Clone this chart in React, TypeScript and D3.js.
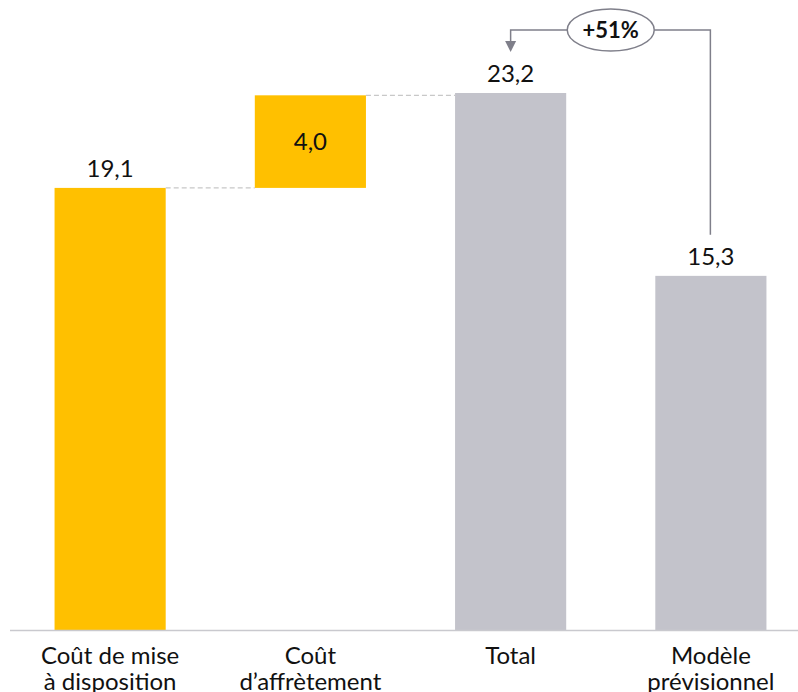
import React from "react";
import * as d3 from "d3";

const categories = ["Coût de mise\nà disposition", "Coût\nd’affrètement", "Total", "Modèle\nprévisionnel"];
const barStarts = [0, 19.1, 0, 0];
const barValues = [19.1, 4.0, 23.2, 15.3];
const barKinds = ["step", "step", "total", "total"];
const valueLabels = ["19,1", "4,0", "23,2", "15,3"];
const changeLabel = "+51%";

const W = 798;
const H = 692;
const FONT = "Lato, 'Open Sans', sans-serif";

export default function App() {
  const x = d3
    .scaleBand<number>()
    .domain(d3.range(categories.length))
    .range([10, 811])
    .paddingInner(0.445)
    .paddingOuter(0.2225);
  const y = d3.scaleLinear().domain([0, 23.2]).range([630, 93]);

  const colors: Record<string, string> = { step: "#FFC000", total: "#C3C3CB" };
  const bw = x.bandwidth();

  const tops = barValues.map((v, i) => y(barStarts[i] + v));
  const bottoms = barValues.map((v, i) => y(barStarts[i]));

  const cTotal = (x(2) as number) + bw / 2;
  const cModel = (x(3) as number) + bw / 2;
  const bracketY = 30;
  const ellCx = (cTotal + cModel) / 2;
  const rx = 43.5;
  const ry = 21;

  return (
    <svg width={W} height={H} style={{ position: "absolute", left: 0, top: 0 }} fontFamily={FONT}>
      <rect width={W} height={H} fill="#ffffff" />
      {barValues.map((v, i) => (
        <rect
          key={i}
          x={x(i)}
          y={tops[i]}
          width={bw}
          height={bottoms[i] - tops[i]}
          fill={colors[barKinds[i]]}
        />
      ))}
      {[0, 1].map((i) => (
        <line
          key={"c" + i}
          x1={(x(i) as number) + bw}
          x2={x(i + 1) as number}
          y1={tops[i]}
          y2={tops[i]}
          stroke="#c8c8c8"
          strokeWidth={1.3}
          strokeDasharray="5,3"
        />
      ))}
      <line x1={10} x2={W} y1={630.5} y2={630.5} stroke="#c9c9ce" strokeWidth={1.5} />
      {valueLabels.map((l, i) => {
        const cx = (x(i) as number) + bw / 2;
        const inside = i === 1;
        const yy = inside ? (tops[i] + bottoms[i]) / 2 + 8.5 : tops[i] - 11;
        return (
          <text key={"v" + i} x={cx} y={yy} textAnchor="middle" fontSize={24} fill="#111">
            {l}
          </text>
        );
      })}
      {categories.map((c, i) => {
        const cx = (x(i) as number) + bw / 2;
        return (
          <text key={"t" + i} x={cx} y={664} textAnchor="middle" fontSize={24} fill="#111">
            {c.split("\n").map((ln, j) => (
              <tspan key={j} x={cx} dy={j === 0 ? 0 : 26}>
                {ln}
              </tspan>
            ))}
          </text>
        );
      })}
      <path
        d={`M${cModel - 0.5},${tops[3] - 41} V${bracketY} H${ellCx + rx} M${ellCx - rx},${bracketY} H${cTotal} V${bracketY + 12}`}
        fill="none"
        stroke="#7f7f8a"
        strokeWidth={1.5}
      />
      <path
        d={`M${cTotal - 5.5},${bracketY + 11} L${cTotal + 5.5},${bracketY + 11} L${cTotal},${bracketY + 22} Z`}
        fill="#7f7f8a"
      />
      <ellipse cx={ellCx} cy={bracketY} rx={rx} ry={ry} fill="#fff" stroke="#7f7f8a" strokeWidth={1.5} />
      <text x={ellCx} y={bracketY + 7.5} textAnchor="middle" fontSize={22} fontWeight="bold" fill="#111">
        {changeLabel}
      </text>
    </svg>
  );
}
